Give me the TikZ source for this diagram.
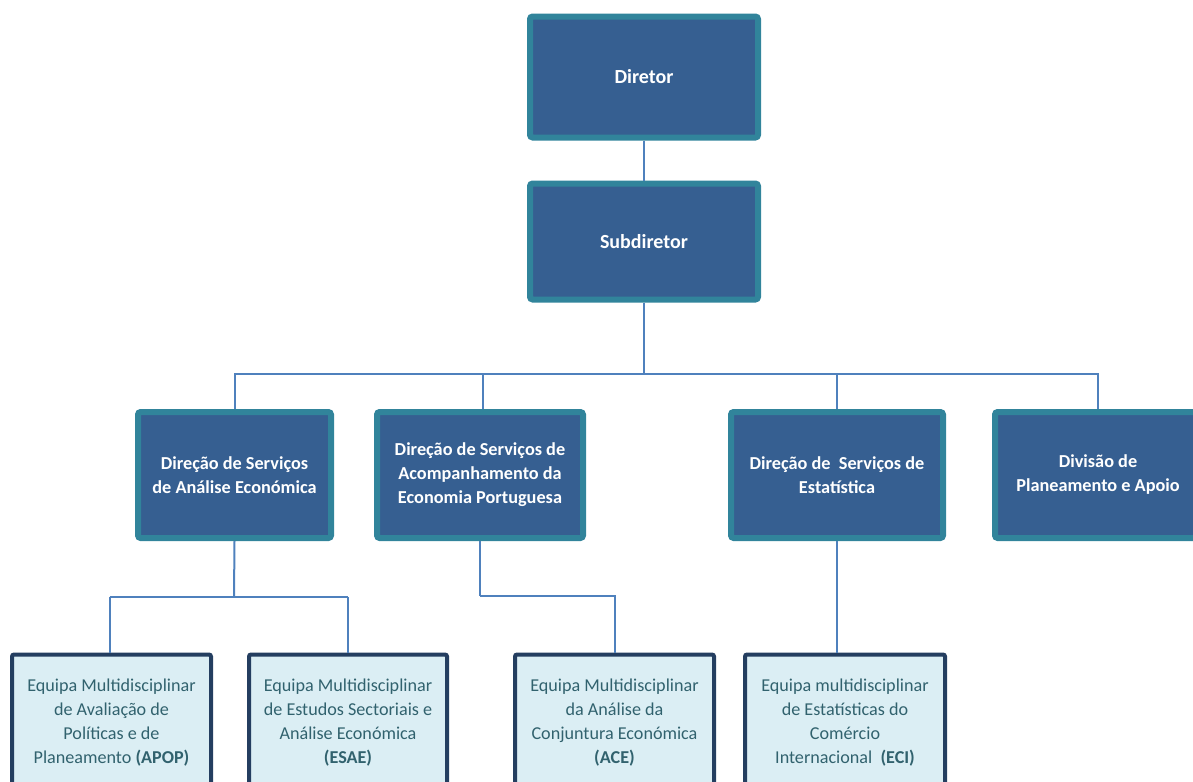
\documentclass[tikz,border=0pt]{standalone}
\usepackage{fontspec}
\setmainfont{Carlito}
\def\pxu{0.75pt}
\definecolor{boxfill}{RGB}{54,95,145}
\definecolor{boxedge}{RGB}{49,132,155}
\definecolor{lightfill}{RGB}{219,238,244}
\definecolor{lightedge}{RGB}{36,62,96}
\definecolor{lighttext}{RGB}{49,98,110}
\definecolor{conn}{RGB}{79,129,189}
\begin{document}
\begin{tikzpicture}[x=0.75pt,y=-0.75pt,
  darkbox/.style={draw=boxedge, fill=boxfill, line width=6*\pxu, rounded corners=2pt,
    text=white, font=\fontsize{13.7}{18}\selectfont\bfseries, align=center, inner sep=0pt},
  lightbox/.style={draw=lightedge, fill=lightfill, line width=4*\pxu, rounded corners=1.5pt,
    text=lighttext, font=\fontsize{13.6}{17.8}\selectfont, align=center, inner sep=0pt,
    minimum height=136*\pxu},
  link/.style={draw=conn, line width=2*\pxu}]
\useasboundingbox (0,0) rectangle (1193,782);
\clip (0,0) rectangle (1193,782);
% top
\node[darkbox, minimum width=228*\pxu, minimum height=121*\pxu, font=\fontsize{15}{18}\selectfont\bfseries] (dir) at (644,77) {Diretor};
\node[darkbox, minimum width=228*\pxu, minimum height=116*\pxu, font=\fontsize{15}{18}\selectfont\bfseries] (sub) at (644,241.5) {Subdiretor};
% level 2
\node[darkbox, minimum width=193*\pxu, minimum height=126*\pxu] (dsae) at (234.5,475) {Direção de Serviços\\de Análise Económica};
\node[darkbox, minimum width=206*\pxu, minimum height=126*\pxu] (dsaep) at (480,475) {Direção de Serviços de\\Acompanhamento da\\Economia Portuguesa};
\node[darkbox, minimum width=212*\pxu, minimum height=126*\pxu] (dse) at (837,475) {Direção de~ Serviços de\\Estatística};
\node[darkbox, minimum width=206*\pxu, minimum height=126*\pxu] (dpa) at (1098,475) {Divisão de\\Planeamento e Apoio};
% level 3
\node[lightbox, minimum width=199*\pxu] (apop) at (111.5,722.5) {Equipa Multidisciplinar\\de Avaliação de\\Políticas e de\\Planeamento \textbf{(APOP)}};
\node[lightbox, minimum width=198*\pxu] (esae) at (348,722.5) {Equipa Multidisciplinar\\de Estudos Sectoriais e\\Análise Económica\\\textbf{(ESAE)}};
\node[lightbox, minimum width=199*\pxu] (ace) at (614.5,722.5) {Equipa Multidisciplinar\\da Análise da\\Conjuntura Económica\\\textbf{(ACE)}};
\node[lightbox, minimum width=200*\pxu] (eci) at (845,722.5) {Equipa multidisciplinar\\de Estatísticas do\\Comércio\\Internacional~ \textbf{(ECI)}};
% coordinates
\coordinate (h1) at (644,374);
\coordinate (h2) at (234,597);
\coordinate (h3) at (480,596);
% connectors
\path[link] (dir.south) -- (sub.north);
\path[link] (sub.south) -- (h1);
\path[link] (dsae.north) |- (h1);
\path[link] (dpa.north) |- (h1);
\path[link] ([xshift=3*\pxu]dsaep.north) -- ([xshift=3*\pxu]dsaep.north |- h1);
\path[link] (dse.north) -- (dse.north |- h1);
\path[link] (dsae.south) -- (h2);
\path[link] ([xshift=-124.5*\pxu]h2) -- ([xshift=114*\pxu]h2);
\path[link] (apop.north -| 110,0) -- (110,597);
\path[link] (esae.north) -- (esae.north |- h2);
\path[link] (dsaep.south) -- (h3);
\path[link] (h3) -| (ace.north);
\path[link] (dse.south) -- (dse.south |- eci.north);
\end{tikzpicture}
\end{document}
